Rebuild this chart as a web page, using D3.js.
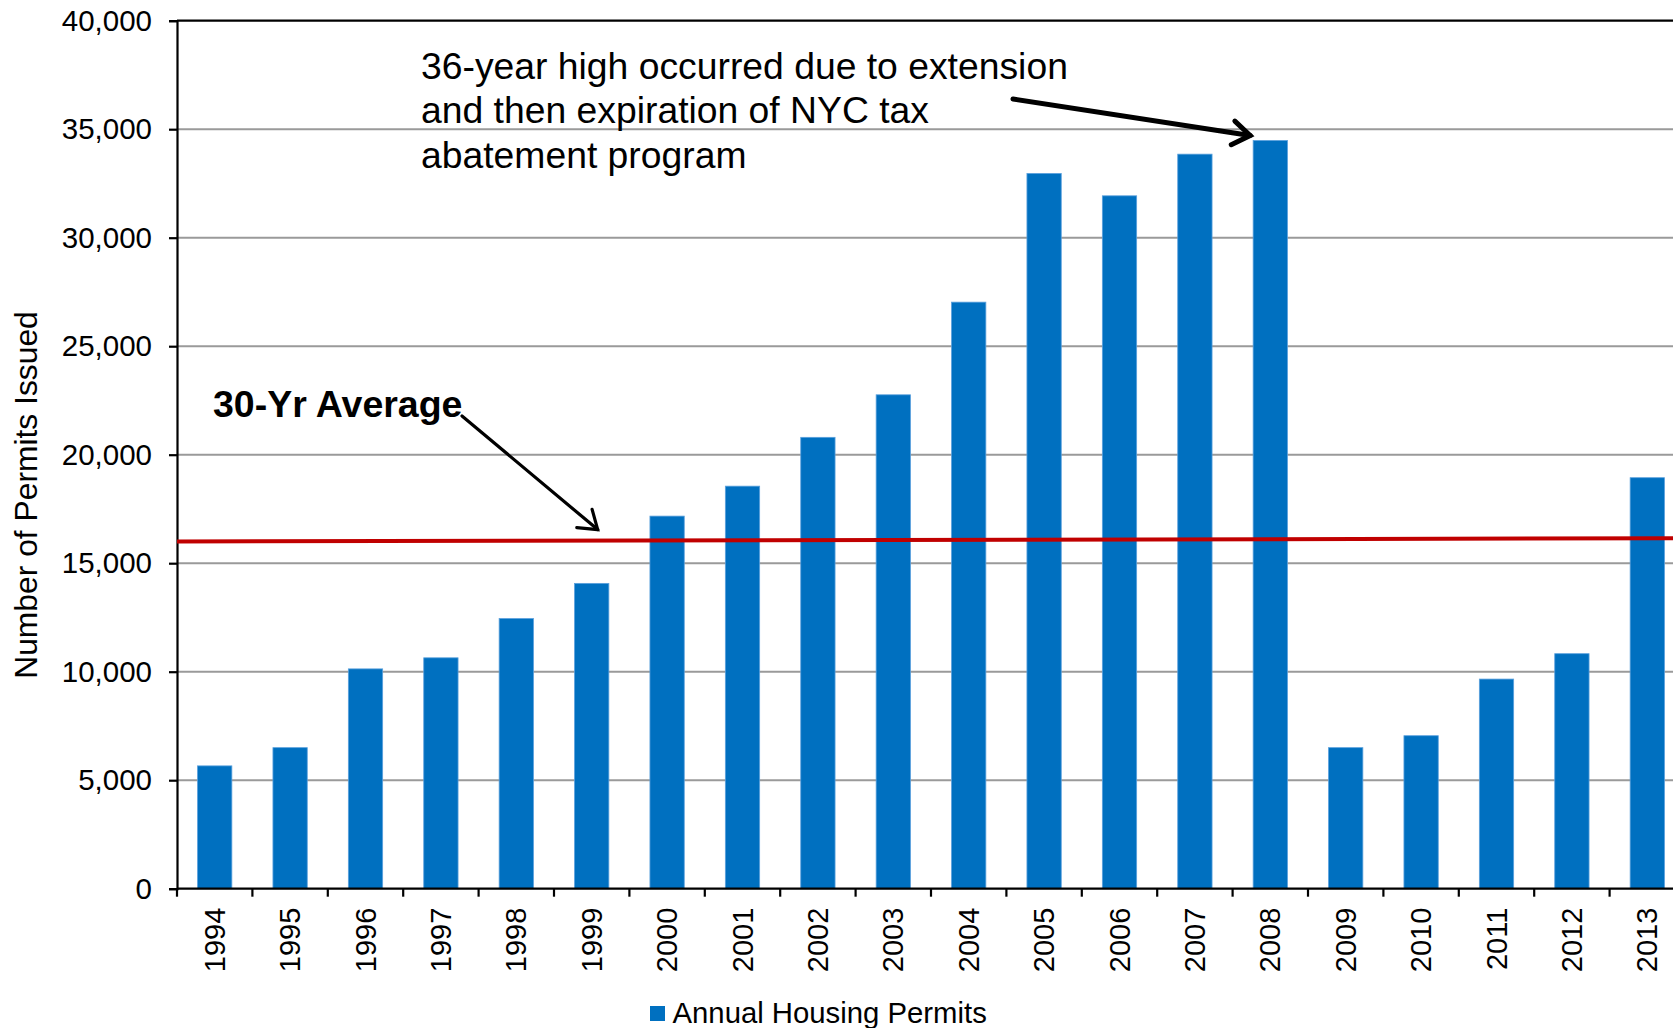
<!DOCTYPE html>
<html>
<head>
<meta charset="utf-8">
<script src="https://cdn.jsdelivr.net/npm/d3@7"></script>
<style>
  html, body { margin: 0; padding: 0; background: #fff; }
  svg { display: block; }
  text { font-family: "Liberation Sans", Arial, Helvetica, sans-serif; fill: #000; }
</style>
</head>
<body>
<svg id="chart" width="1673" height="1028"></svg>
<script>
// Annual housing permits issued, 1994-2013
const years = ["1994","1995","1996","1997","1998","1999","2000","2001","2002","2003",
               "2004","2005","2006","2007","2008","2009","2010","2011","2012","2013"];
const permits = [5660, 6500, 10130, 10640, 12450, 14070, 17170, 18550, 20800, 22760,
                 27030, 32960, 31930, 33850, 34480, 6500, 7050, 9660, 10830, 18940];
// 30-year average trend line, value at the left and right ends of the plot
const averageEnds = [16000, 16150];
const yTicks = [0, 5000, 10000, 15000, 20000, 25000, 30000, 35000, 40000];
const seriesName = "Annual Housing Permits";
const yTitle = "Number of Permits Issued";
const noteHigh = ["36-year high occurred due to extension",
                  "and then expiration of NYC tax",
                  "abatement program"];
const noteAverage = "30-Yr Average";

const svg = d3.select("#chart");
const plotLeft = 177, plotTop = 20.7, plotBottom = 888.7, bandW = 75.4;
const plotRight = plotLeft + bandW * years.length;

const x = d3.scaleBand().domain(years).range([plotLeft, plotRight]).padding(0);
const y = d3.scaleLinear().domain([0, 40000]).range([plotBottom, plotTop]);
const barW = x.bandwidth() * 0.455;

// horizontal gridlines
svg.append("g").selectAll("line")
  .data(yTicks.filter(d => d > 0 && d < 40000))
  .join("line")
  .attr("x1", plotLeft).attr("x2", plotRight)
  .attr("y1", d => y(d)).attr("y2", d => y(d))
  .attr("stroke", "#9a9a9a").attr("stroke-width", 2);

// bars
svg.append("g").selectAll("rect")
  .data(years.map((yr, i) => ({ yr, v: permits[i] })))
  .join("rect")
  .attr("x", d => x(d.yr) + (x.bandwidth() - barW) / 2)
  .attr("width", barW)
  .attr("y", d => y(d.v))
  .attr("height", d => y(0) - y(d.v))
  .attr("fill", "#0070C0")
  .attr("stroke", "#5aa0dc").attr("stroke-width", 0.8);

// plot frame top line
svg.append("line")
  .attr("x1", plotLeft).attr("x2", plotRight)
  .attr("y1", y(40000)).attr("y2", y(40000))
  .attr("stroke", "#000").attr("stroke-width", 2.2);

// y axis
const yAxis = d3.axisLeft(y).tickValues(yTicks).tickSize(8).tickPadding(17)
  .tickFormat(d3.format(","));
const gy = svg.append("g").attr("transform", `translate(${plotLeft},0)`).call(yAxis);
gy.select(".domain").attr("stroke", "#000").attr("stroke-width", 2.2);
gy.selectAll(".tick line").attr("stroke", "#000").attr("stroke-width", 2.2);
gy.selectAll(".tick text").attr("font-size", 29.5).attr("fill", "#000")
  .style("font-family", '"Liberation Sans", Arial, sans-serif');

// x axis: line, boundary ticks, rotated labels at band centers
const gx = svg.append("g");
gx.append("line").attr("x1", plotLeft).attr("x2", plotRight)
  .attr("y1", plotBottom).attr("y2", plotBottom)
  .attr("stroke", "#000").attr("stroke-width", 2.2);
gx.selectAll("line.tk")
  .data(d3.range(years.length + 1))
  .join("line").attr("class", "tk")
  .attr("x1", i => plotLeft + i * x.step()).attr("x2", i => plotLeft + i * x.step())
  .attr("y1", plotBottom).attr("y2", plotBottom + 8)
  .attr("stroke", "#000").attr("stroke-width", 2.2);
gx.selectAll("text")
  .data(years)
  .join("text")
  .attr("transform", d => `translate(${x(d) + x.bandwidth() / 2},${plotBottom + 19}) rotate(-90)`)
  .attr("text-anchor", "end")
  .attr("dy", "0.35em")
  .attr("font-size", 29)
  .text(d => d);

// 30-year average line
svg.append("line")
  .attr("x1", plotLeft).attr("x2", plotRight)
  .attr("y1", y(averageEnds[0])).attr("y2", y(averageEnds[1]))
  .attr("stroke", "#C00000").attr("stroke-width", 4);

// y axis title
svg.append("text")
  .attr("transform", "translate(37,495) rotate(-90)")
  .attr("text-anchor", "middle")
  .attr("font-size", 31.8)
  .text(yTitle);

// annotation: 36-year high
const hi = svg.append("g");
hi.selectAll("text").data(noteHigh).join("text")
  .attr("x", 421).attr("y", (d, i) => 78.5 + i * 44.5)
  .attr("font-size", 37.3)
  .text(d => d);

function chevronArrow(g, x1, y1, x2, y2, width, head) {
  const a = Math.atan2(y2 - y1, x2 - x1);
  const spread = Math.PI / 5.2;
  g.append("line").attr("x1", x1).attr("y1", y1).attr("x2", x2).attr("y2", y2)
    .attr("stroke", "#000").attr("stroke-width", width).attr("stroke-linecap", "round");
  g.append("path")
    .attr("d", `M${x2 - head * Math.cos(a - spread)},${y2 - head * Math.sin(a - spread)}` +
               `L${x2},${y2}` +
               `L${x2 - head * Math.cos(a + spread)},${y2 - head * Math.sin(a + spread)}`)
    .attr("fill", "none").attr("stroke", "#000").attr("stroke-width", width)
    .attr("stroke-linecap", "round").attr("stroke-linejoin", "miter");
}

const peakIdx = permits.indexOf(d3.max(permits));
const peakX = x(years[peakIdx]) + (x.bandwidth() - barW) / 2 - 3;
const peakY = y(permits[peakIdx]) - 5;
chevronArrow(hi, 1013, 99, peakX, peakY, 5, 21);

// annotation: 30-Yr Average
const av = svg.append("g");
av.append("text").attr("x", 213).attr("y", 416.5)
  .attr("font-size", 37.5).attr("font-weight", "bold")
  .text(noteAverage);
const avX = x("1999") + x.bandwidth() / 2 + 6;
const avFrac = (avX - plotLeft) / (plotRight - plotLeft);
const avY = y(averageEnds[0] + avFrac * (averageEnds[1] - averageEnds[0])) - 11;
chevronArrow(av, 462, 416, avX, avY, 3.2, 21);

// legend
const lg = svg.append("g");
lg.append("rect").attr("x", 650).attr("y", 1006).attr("width", 15).attr("height", 15)
  .attr("fill", "#0070C0");
lg.append("text").attr("x", 672.5).attr("y", 1023).attr("font-size", 29.3).text(seriesName);
</script>
</body>
</html>
